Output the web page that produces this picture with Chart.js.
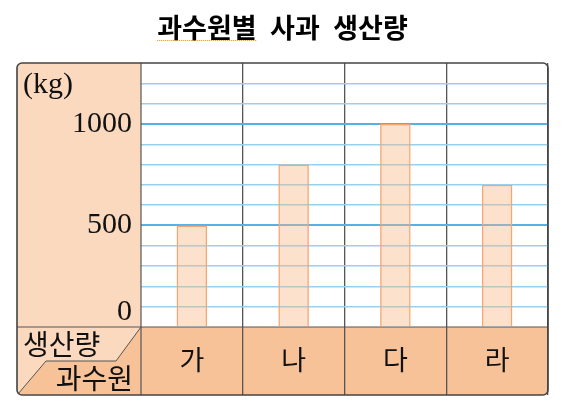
<!DOCTYPE html>
<html>
<head>
<meta charset="utf-8">
<script src="https://cdn.jsdelivr.net/npm/chart.js@4"></script>
<style>
  html, body { margin: 0; padding: 0; background: #fff; }
  canvas { display: block; }
</style>
</head>
<body>
<canvas id="orchard" width="567" height="407"></canvas>
<script>
// data
const orchards = ['가', '나', '다', '라'];
const production = [500, 800, 1000, 700];
const labeledTicks = [0, 500, 1000];
const yMax = 1300;
const yStep = 100;

const KR = "'Noto Sans CJK KR', 'Noto Sans', sans-serif";
const SERIF = "'Liberation Serif', 'DejaVu Serif', serif";
const LIGHT = '#fbd9bf';
const DARK = '#f7c298';
const LINE = '#555555';
const TITLE = '과수원별\u2002사과\u2002생산량';

// background cells, frame lines and corner texts
const framePlugin = {
  id: 'frame',
  beforeDraw(chart) {
    const { ctx, chartArea: a } = chart;
    const L = 17, B = a.bottom + 68, r = 5;
    ctx.save();
    // left column
    ctx.fillStyle = LIGHT;
    ctx.beginPath();
    ctx.moveTo(a.left, a.top);
    ctx.lineTo(L + r, a.top);
    ctx.arcTo(L, a.top, L, a.top + r, r);
    ctx.lineTo(L, B - r);
    ctx.arcTo(L, B, L + r, B, r);
    ctx.lineTo(a.left, B);
    ctx.closePath();
    ctx.fill();
    // header row
    ctx.fillStyle = DARK;
    ctx.beginPath();
    ctx.moveTo(a.left, a.bottom);
    ctx.lineTo(a.right, a.bottom);
    ctx.lineTo(a.right, B - r);
    ctx.arcTo(a.right, B, a.right - r, B, r);
    ctx.lineTo(a.left, B);
    ctx.closePath();
    ctx.fill();
    // lower part of the corner cell
    ctx.beginPath();
    ctx.moveTo(a.left, a.bottom);
    ctx.lineTo(116, 361);
    ctx.lineTo(46, 361);
    ctx.lineTo(L + 1, B - 1);
    ctx.lineTo(a.left, B);
    ctx.closePath();
    ctx.fill();
    ctx.restore();
  },
  afterDraw(chart) {
    const { ctx, chartArea: a } = chart;
    const L = 17, B = a.bottom + 68, r = 5;
    ctx.save();
    ctx.strokeStyle = LINE;
    ctx.lineWidth = 1.2;
    ctx.beginPath();
    ctx.moveTo(a.left, a.top);
    ctx.lineTo(a.left, B);
    ctx.moveTo(L, a.bottom);
    ctx.lineTo(a.right, a.bottom);
    ctx.stroke();
    // corner diagonal
    ctx.lineWidth = 1;
    ctx.beginPath();
    ctx.moveTo(a.left, a.bottom);
    ctx.lineTo(116, 361);
    ctx.lineTo(46, 361);
    ctx.lineTo(L + 1, B - 1);
    ctx.stroke();
    // outer frame
    ctx.strokeStyle = '#444';
    ctx.lineWidth = 1.6;
    ctx.beginPath();
    ctx.moveTo(L + r, a.top);
    ctx.arcTo(a.right, a.top, a.right, B, r);
    ctx.arcTo(a.right, B, L, B, r);
    ctx.arcTo(L, B, L, a.top, r);
    ctx.arcTo(L, a.top, a.right, a.top, r);
    ctx.closePath();
    ctx.stroke();
    // texts
    ctx.fillStyle = '#111';
    ctx.textBaseline = 'middle';
    ctx.textAlign = 'left';
    ctx.font = '30px ' + SERIF;
    ctx.fillText('(kg)', 23, 85);
    ctx.font = '28px ' + KR;
    ctx.fillText('생산량', 23, 344);
    ctx.textAlign = 'right';
    ctx.fillText('과수원', 133, 378);
    // dotted underline under the first title word
    const t = chart.titleBlock;
    ctx.font = 'bold 27px ' + KR;
    const full = ctx.measureText(TITLE).width;
    const first = ctx.measureText('과수원별').width;
    const x0 = (t.left + t.right) / 2 - full / 2;
    ctx.strokeStyle = '#f08a24';
    ctx.lineWidth = 1;
    ctx.setLineDash([1, 1]);
    ctx.beginPath();
    ctx.moveTo(x0, 40.5);
    ctx.lineTo(x0 + first, 40.5);
    ctx.stroke();
    ctx.restore();
  }
};

new Chart(document.getElementById('orchard'), {
  type: 'bar',
  data: {
    labels: orchards,
    datasets: [{
      label: '사과 생산량',
      data: production,
      backgroundColor: 'rgba(248, 180, 130, 0.4)',
      borderColor: '#f5a472',
      borderWidth: 1.5,
      barPercentage: 0.3,
      categoryPercentage: 1
    }]
  },
  options: {
    responsive: false,
    animation: false,
    layout: { padding: { left: 17, right: 19, top: 0, bottom: 12 } },
    plugins: {
      legend: { display: false },
      tooltip: { enabled: false },
      title: {
        display: true,
        text: TITLE,
        color: '#000',
        font: { family: KR, size: 27, weight: 'bold', lineHeight: 1.2 },
        padding: { top: 11.8, bottom: 18.8 }
      }
    },
    scales: {
      x: {
        offset: true,
        afterFit(scale) { scale.height = 68; },
        border: { display: false },
        grid: {
          offset: true,
          drawTicks: true,
          tickLength: 68,
          lineWidth: 1.3,
          color: ctx => (ctx.index === 0 || ctx.index === orchards.length) ? 'rgba(0,0,0,0)' : LINE,
          tickColor: ctx => (ctx.index === 0 || ctx.index === orchards.length) ? 'rgba(0,0,0,0)' : LINE
        },
        ticks: {
          color: '#111',
          padding: -51,
          maxRotation: 0,
          font: { family: KR, size: 27, lineHeight: 1.2 }
        }
      },
      y: {
        min: 0,
        max: yMax,
        afterFit(scale) { scale.width = 124; },
        border: { display: false },
        grid: {
          drawTicks: false,
          color: ctx => {
            const v = ctx.tick.value;
            if (v === 0 || v === yMax) return 'rgba(0,0,0,0)';
            return v % 500 === 0 ? '#56b2e6' : '#96d2f0';
          },
          lineWidth: ctx => (ctx.tick.value % 500 === 0 ? 2 : 1.4)
        },
        ticks: {
          stepSize: yStep,
          autoSkip: false,
          padding: 9,
          color: '#111',
          font: { family: SERIF, size: 30, lineHeight: 1 },
          callback: v => {
            if (!labeledTicks.includes(v)) return '';
            return v === 0 ? ['0', ''] : String(v);
          }
        }
      }
    }
  },
  plugins: [framePlugin]
});
</script>
</body>
</html>
